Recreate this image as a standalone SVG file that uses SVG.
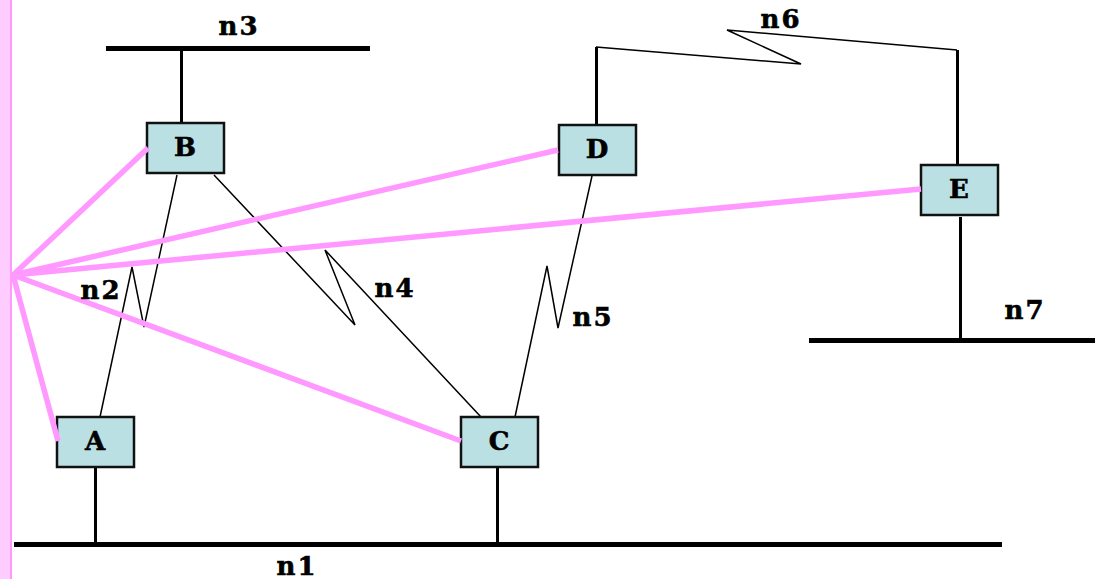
<svg xmlns="http://www.w3.org/2000/svg" width="1095" height="579" viewBox="0 0 1095 579">
<style>
.bar{stroke:#000;stroke-width:5;fill:none}
.stub{stroke:#000;stroke-width:3;fill:none}
.thin{stroke:#000;stroke-width:1.5;fill:none;stroke-linejoin:miter}
.pink{stroke:#ff99ff;stroke-width:5.500;fill:none}
.box{fill:#bbe0e3;stroke:#111;stroke-width:2.500}
text{font-family:"DejaVu Serif","Liberation Serif",serif;font-weight:bold;font-size:26px;fill:#000;stroke:#000;stroke-width:.6px}
.c{text-anchor:middle}
.l{letter-spacing:2px}
</style>
<rect x="0" y="0" width="11" height="579" fill="#ffccff"/>
<rect x="10" y="0" width="2" height="579" fill="#ff99ff"/>
<g id="connectors">
<path class="bar" d="M14 544.500H1002"/>
<path class="bar" d="M106 48.500H370"/>
<path class="bar" d="M809 340.500H1095"/>
<path class="stub" d="M95.500 468V544"/>
<path class="stub" d="M497.500 468V544"/>
<path class="stub" d="M181.500 49V123"/>
<path class="stub" d="M960.500 217V340"/>
<path class="stub" d="M596.500 125V47"/>
<path class="stub" d="M957.500 164V50"/>
<path class="thin" d="M596 47L801 64L727 30L957 50"/>
<path class="thin" d="M177 175L144 327L132 267L100 417"/>
<path class="thin" d="M214 175L355 325L325 250L481 417"/>
<path class="thin" d="M592 176L558 328L547 266L515 417"/>
</g>
<g id="node-A"><rect class="box" x="57" y="417" width="77" height="50"/><text class="c" x="95" y="450">A</text></g>
<g id="node-B"><rect class="box" x="147" y="123" width="77" height="50"/><text class="c" x="185" y="156">B</text></g>
<g id="node-C"><rect class="box" x="461" y="417" width="77" height="50"/><text class="c" x="499" y="450">C</text></g>
<g id="node-D"><rect class="box" x="559" y="125" width="77" height="50"/><text class="c" x="597" y="158">D</text></g>
<g id="node-E"><rect class="box" x="921" y="165" width="77" height="50"/><text class="c" x="959" y="198">E</text></g>
<g id="pink-connectors">
<path class="pink" d="M148 148L13 275L58 441M13 275L558 150M13 275L921 189M13 275L461 441"/>
</g>
<g id="labels">
<text class="c l" x="297" y="575">n1</text>
<text class="c l" x="101" y="299">n2</text>
<text class="c l" x="239" y="35">n3</text>
<text class="c l" x="395" y="297">n4</text>
<text class="c l" x="593" y="326">n5</text>
<text class="c l" x="781" y="28">n6</text>
<text class="c l" x="1025" y="319">n7</text>
</g>
</svg>
